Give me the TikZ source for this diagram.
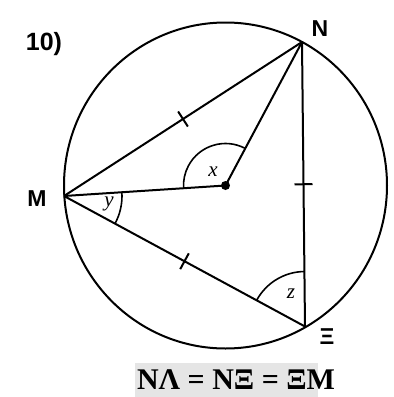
\documentclass[tikz,border=0pt]{standalone}
\usepackage{fontspec}
\setmainfont{Liberation Serif}
\setsansfont{Liberation Sans}
\usetikzlibrary{angles}

\begin{document}
\begin{tikzpicture}[
  x=1pt, y=-1pt, line width=2pt, line join=round,
  vtx/.style={font=\sffamily\bfseries\fontsize{23}{23}\selectfont, inner sep=0pt},
  var/.style={font=\itshape\fontsize{21}{21}\selectfont, inner sep=0pt},
  tk/.style={midway, sloped, inner sep=0pt, minimum width=0pt, minimum height=16pt},
  arc/.style={draw, line width=1.6pt}]
\useasboundingbox (0,0) rectangle (394,397);
\coordinate (O) at (225.5,185.5);
\coordinate (N) at (302,42);
\coordinate (M) at (64,196);
\coordinate (X) at (305,326.5);
\draw (O) ellipse [x radius=161.5, y radius=163];
\draw (M) -- (N) node[tk] (t1) {};
\draw (N) -- (X) node[tk] (t2) {};
\draw (X) -- (M) node[tk] (t3) {};
\draw (M) -- (O) -- (N);
\draw (t1.north) -- (t1.south);
\draw (t2.north) -- (t2.south);
\draw (t3.north) -- (t3.south);
\fill (O) circle (4.5pt);
\pic[arc, angle radius=42pt] {angle=N--O--M};
\pic[arc, angle radius=58pt] {angle=X--M--O};
\pic[arc, angle radius=55pt] {angle=N--X--M};
\node[var] (vx) at (213,172) {x};
\node[var] (vy) at (109,204) {y};
\node[var] (vz) at (291,294) {z};
\node[vtx] (lN) at (320,29) {N};
\node[vtx] (lM) at (37,199) {M};
\node[vtx] (lX) at (327,337) {Ξ};
\node[font=\sffamily\bfseries\fontsize{25}{25}\selectfont, inner sep=0pt] (num) at (44,44) {10)};
\fill[black!10] (135,363) rectangle (318,397);
\node[font=\bfseries\fontsize{30}{30}\selectfont, inner sep=0pt] (eq) at (236,380) {ΝΛ = ΝΞ = ΞΜ};
\end{tikzpicture}
\end{document}
